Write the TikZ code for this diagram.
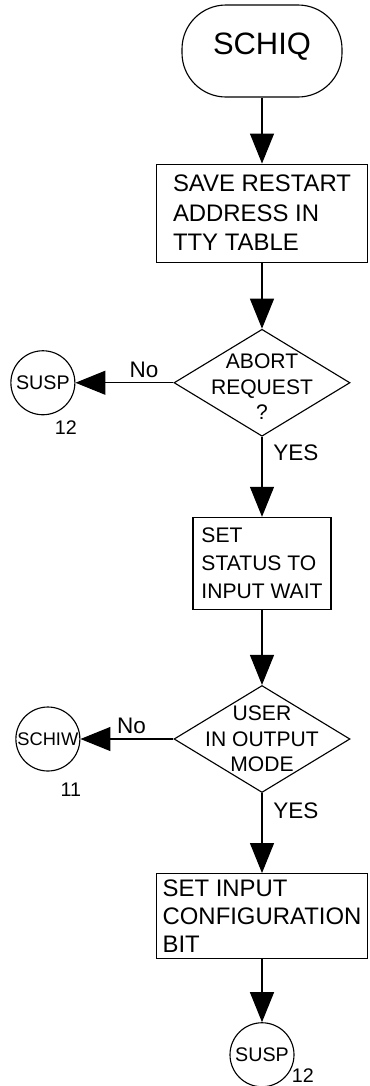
\documentclass[tikz,border=0pt]{standalone}
\usepackage{fontspec}
\setmainfont{Liberation Sans}
\usetikzlibrary{positioning}
\usetikzlibrary{shapes.geometric}
\usetikzlibrary{arrows.meta}

\begin{document}
\begin{tikzpicture}

        \def\d{1.65cm}
        \def\h{2cm}

        % Shapes used by the chart
        \tikzset{
            terminal/.style={draw, thick, rounded corners=1.1cm,
                minimum width=4cm, minimum height=2.3cm},
            process/.style={draw, thick, align=left,
                font=\fontsize{17}{21}\selectfont},
            decision/.style={draw, thick, diamond, inner sep=0pt,
                minimum width=4.4cm, minimum height=2.675cm},
            connector/.style={draw, thick, circle, inner sep=0pt,
                minimum size=1.6cm, font=\fontsize{14}{16}\selectfont},
            flow/.style={thick, -{Triangle[length=7.5mm, width=6mm]}},
            tag/.style={font=\fontsize{16}{18}\selectfont},
            page/.style={font=\fontsize{14}{16}\selectfont}
        }

        \useasboundingbox (0, 0) rectangle (9.25, -27.15);

        \begin{scope}
            \node (SCHIQ) [terminal, text depth=0.35cm,
                font=\fontsize{22}{24}\selectfont] at (6.55, -1.275) {SCHIQ};
            \node (B1) [process, minimum width=5.275cm, minimum height=2.45cm,
                below=\d of SCHIQ]
            {SAVE RESTART\\ADDRESS IN\\TTY TABLE};
            \node (Q1) [decision, below=\d of B1,
                label={[name=Q1text, align=center,
                font=\fontsize{15}{18}\selectfont, yshift=-0.1cm]
                center:ABORT\\REQUEST\\?}] {};
            \node (B2) [process, minimum width=3.45cm, minimum height=2.3cm,
                font=\fontsize{15}{20}\selectfont, below=\h of Q1]
            {SET\\STATUS TO\\INPUT WAIT};
            \node (Q2) [decision, below=1.875cm of B2,
                label={[name=Q2text, align=center,
                font=\fontsize{15}{18}\selectfont]
                center:USER\\IN OUTPUT\\MODE}] {};
            \node (B3) [process, minimum width=5.275cm, minimum height=2.125cm,
                font=\fontsize{17}{20}\selectfont, below=\h of Q2]
            {SET INPUT\\CONFIGURATION\\BIT};
            \node (S3) [connector, below=1.575cm of B3] {SUSP};

            % off-page exits
            \node (S1) [connector, left=2.45cm of Q1] {SUSP};
            \node (S2) [connector, font=\fontsize{13}{15}\selectfont,
                left=2.325cm of Q2] {SCHIW};

            \node (P1) [page, below=0.25cm of S1.south east] {12};
            \node (P2) [page, below=0.4cm of S2.south east] {11};
            \node (P3) [page, right=0.05cm of S3.south east, yshift=0.05cm] {12};
        \end{scope}

        \begin{scope}[thick]
            \draw[flow] (SCHIQ) -- (B1);
            \draw[flow] (B1) -- (Q1);
            \draw[flow] (Q1) -- node[tag, pos=0.3, above] (N1) {No} (S1);
            \draw[flow] (Q1) -- node[tag, pos=0.2, right=0.15cm] (Y1) {YES} (B2);
            \draw[flow] (B2) -- (Q2);
            \draw[flow] (Q2) -- node[tag, pos=0.45, above] (N2) {No} (S2);
            \draw[flow] (Q2) -- node[tag, pos=0.22, right=0.15cm] (Y2) {YES} (B3);
            \draw[flow] (B3) -- (S3);
        \end{scope}

\end{tikzpicture}
\end{document}
